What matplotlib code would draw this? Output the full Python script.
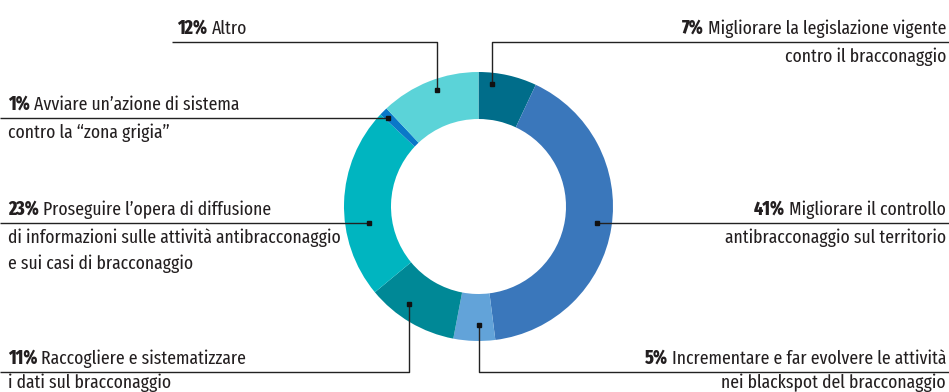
import matplotlib
matplotlib.use("Agg")
import matplotlib.pyplot as plt

plt.rcParams['font.family'] = ['Fira Sans Extra Condensed', 'Fira Sans Condensed', 'DejaVu Sans']

# data, clockwise from 12 o'clock
pcts = [7, 41, 5, 11, 23, 1, 12]
pct_labels = ['7%', '41%', '5%', '11%', '23%', '1%', '12%']
texts = [
    ['Migliorare la legislazione vigente', 'contro il bracconaggio'],
    ['Migliorare il controllo', 'antibracconaggio sul territorio'],
    ['Incrementare e far evolvere le attività', 'nei blackspot del bracconaggio'],
    ['Raccogliere e sistematizzare', 'i dati sul bracconaggio'],
    ['Proseguire l\u2019opera di diffusione',
     'di informazioni sulle attività antibracconaggio',
     'e sui casi di bracconaggio'],
    ['Avviare un\u2019azione di sistema', 'contro la \u201czona grigia\u201d'],
    ['Altro'],
]
colors = ['#006d8a', '#3a77bb', '#62a3d9', '#008896', '#00b5c0', '#0a78c8', '#5bd3d8']

W, H = 949, 392
fig = plt.figure(figsize=(W / 100, H / 100), dpi=100)
ax = fig.add_axes([0, 0, 1, 1])


def py(y):
    return H - y


cx, cy, R = 478.5, 206.5, 134.5
ax.pie(pcts, colors=colors, startangle=90, counterclock=False,
       center=(cx, py(cy)), radius=R, frame=True,
       wedgeprops=dict(width=47, linewidth=0))
ax.set_xlim(0, W)
ax.set_ylim(0, H)
ax.set_aspect('equal')
ax.axis('off')

# leader paths in pixels (anchor on ring first), text side, text x, leader y
layout = [
    dict(path=[(492, 84), (492, 42), (949, 42)], side='right', x=946, y=42),
    dict(path=[(597, 223), (949, 223)], side='right', x=946, y=223),
    dict(path=[(479, 325), (479, 372), (949, 372)], side='right', x=946, y=372),
    dict(path=[(409, 304), (409, 372), (0, 372)], side='left', x=8, y=372),
    dict(path=[(369, 223), (0, 223)], side='left', x=8, y=223),
    dict(path=[(388, 118), (0, 118)], side='left', x=8, y=118),
    dict(path=[(437, 90), (437, 42), (172, 42)], side='right', x=247, y=42),
]

fs = 13.8
tcol = '#231f20'
fig.canvas.draw()
r = fig.canvas.get_renderer()
space = 4

for p, lines, lay in zip(pct_labels, texts, layout):
    xs = [q[0] for q in lay['path']]
    ys = [py(q[1]) for q in lay['path']]
    ax.plot(xs, ys, color='#222222', lw=1, solid_capstyle='butt')
    ax.plot(xs[0], ys[0], 's', color='#111111', ms=2.5)

    ybase = lay['y']
    first_y = py(ybase - 8)
    if lay['side'] == 'left':
        tb = ax.text(lay['x'], first_y, p, fontsize=fs, fontweight='heavy',
                     color=tcol, ha='left', va='baseline')
        bb = tb.get_window_extent(r)
        ax.text(bb.x1 + space, first_y, lines[0], fontsize=fs, color=tcol,
                ha='left', va='baseline')
    else:
        tr = ax.text(lay['x'], first_y, lines[0], fontsize=fs, color=tcol,
                     ha='right', va='baseline')
        bb = tr.get_window_extent(r)
        ax.text(bb.x0 - space, first_y, p, fontsize=fs, fontweight='heavy',
                color=tcol, ha='right', va='baseline')
    for i, ln in enumerate(lines[1:]):
        ax.text(lay['x'], py(min(ybase + 20 + 26 * i, 388)), ln, fontsize=fs,
                color=tcol, ha=lay['side'], va='baseline')

fig.savefig('out.png', dpi=100)
